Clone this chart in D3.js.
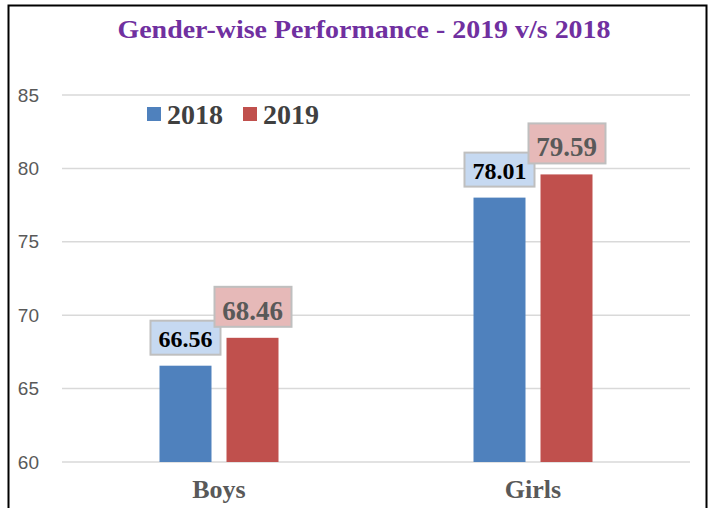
<!DOCTYPE html>
<html>
<head>
<meta charset="utf-8">
<script src="https://cdn.jsdelivr.net/npm/d3@7"></script>
<style>
  body { margin: 0; background: #fff; }
</style>
</head>
<body>
<div class="viz"></div>
<script>
// values
var categories = ['Boys', 'Girls'];
var seriesNames = ['2018', '2019'];
var values2018 = [66.56, 78.01];
var values2019 = [68.46, 79.59];
var yTicks = [60, 65, 70, 75, 80, 85];

var width = 710, height = 508;
var margin = {top: 95, right: 20, bottom: 46, left: 62};
var colors = {'2018': '#4F81BD', '2019': '#C0504D'};
var boxFill = {'2018': '#C6D9F1', '2019': '#E6B9B8'};
var labelColor = {'2018': '#000000', '2019': '#595959'};

var svg = d3.select('.viz')
    .append('svg')
    .attr('width', width)
    .attr('height', height);

// outer frame
svg.append('rect')
    .attr('x', 8.5).attr('y', 5.5)
    .attr('width', 698).attr('height', 520)
    .attr('fill', 'none')
    .attr('stroke', '#000')
    .attr('stroke-width', 2);

svg.append('text')
    .attr('x', 364).attr('y', 38)
    .attr('text-anchor', 'middle')
    .attr('font-family', 'Liberation Serif, Times New Roman, serif')
    .attr('font-weight', 'bold')
    .attr('font-size', '26px')
    .attr('fill', '#7030A0')
    .attr('textLength', 493)
    .attr('lengthAdjust', 'spacingAndGlyphs')
    .text('Gender-wise Performance - 2019 v/s 2018');

var x0 = d3.scaleBand()
    .domain(categories)
    .range([margin.left, 690]);

var x1 = d3.scaleBand()
    .domain(seriesNames)
    .range([0, 119])
    .paddingInner(0.224);

var y = d3.scaleLinear()
    .domain([60, 85])
    .range([462, 95]);

// gridlines
svg.append('g')
    .selectAll('line')
    .data(yTicks)
    .enter()
    .append('line')
    .attr('x1', margin.left).attr('x2', 690)
    .attr('y1', d => y(d)).attr('y2', d => y(d))
    .attr('stroke', '#D9D9D9')
    .attr('stroke-width', 1.5);

// y axis labels
var yAxis = svg.append('g')
    .attr('transform', 'translate(39,0)')
    .call(d3.axisLeft(y).tickValues(yTicks).tickSize(0).tickPadding(0));
yAxis.select('.domain').remove();
yAxis.selectAll('text')
    .attr('font-family', 'Liberation Sans Narrow, Arial Narrow, sans-serif')
    .attr('font-size', '19px')
    .attr('fill', '#595959');

// x axis labels
var xAxis = svg.append('g')
    .attr('transform', 'translate(0,476)')
    .call(d3.axisBottom(x0).tickSize(0).tickPadding(0));
xAxis.select('.domain').remove();
xAxis.selectAll('text')
    .attr('dy', '0.85em')
    .attr('font-family', 'Liberation Serif, Times New Roman, serif')
    .attr('font-weight', 'bold')
    .attr('font-size', '26px')
    .attr('fill', '#595959');

var rows = [];
categories.forEach(function(c, i) {
    rows.push({cat: c, series: '2018', value: values2018[i]});
    rows.push({cat: c, series: '2019', value: values2019[i]});
});

var groupOffset = x0.bandwidth() / 2 - 59.5;

svg.append('g')
    .selectAll('rect')
    .data(rows)
    .enter()
    .append('rect')
    .attr('x', d => x0(d.cat) + groupOffset + x1(d.series))
    .attr('y', d => y(d.value))
    .attr('width', x1.bandwidth())
    .attr('height', d => y(60) - y(d.value))
    .attr('fill', d => colors[d.series]);

// data label boxes
var labels = svg.append('g')
    .selectAll('g')
    .data(rows)
    .enter()
    .append('g')
    .attr('transform', function(d) {
        var cx = x0(d.cat) + groupOffset + x1(d.series) + x1.bandwidth() / 2;
        return 'translate(' + cx + ',' + (y(d.value) - 27) + ')';
    });

labels.append('rect')
    .attr('x', d => d.series == '2018' ? -35 : -38)
    .attr('y', -18)
    .attr('width', d => d.series == '2018' ? 70 : 77)
    .attr('height', d => d.series == '2018' ? 34 : 40)
    .attr('transform', d => d.series == '2018' ? 'translate(0,0)' : 'translate(0,-6)')
    .attr('fill', d => boxFill[d.series])
    .attr('stroke', '#BFBFBF')
    .attr('stroke-width', 2);

labels.append('text')
    .attr('text-anchor', 'middle')
    .attr('y', d => d.series == '2018' ? 8 : 9)
    .attr('font-family', 'Liberation Serif, Times New Roman, serif')
    .attr('font-weight', 'bold')
    .attr('font-size', d => d.series == '2018' ? '24px' : '27px')
    .attr('fill', d => labelColor[d.series])
    .text(d => d.value.toFixed(2));

// legend
var legend = svg.append('g')
    .selectAll('g')
    .data(seriesNames)
    .enter()
    .append('g')
    .attr('transform', (d, i) => 'translate(' + (147 + i * 96) + ',107)');

legend.append('rect')
    .attr('width', 14).attr('height', 14)
    .attr('fill', d => colors[d]);

legend.append('text')
    .attr('x', 20).attr('y', 17)
    .attr('font-family', 'Liberation Serif, Times New Roman, serif')
    .attr('font-weight', 'bold')
    .attr('font-size', '28px')
    .attr('fill', '#404040')
    .text(d => d);
</script>
</body>
</html>
